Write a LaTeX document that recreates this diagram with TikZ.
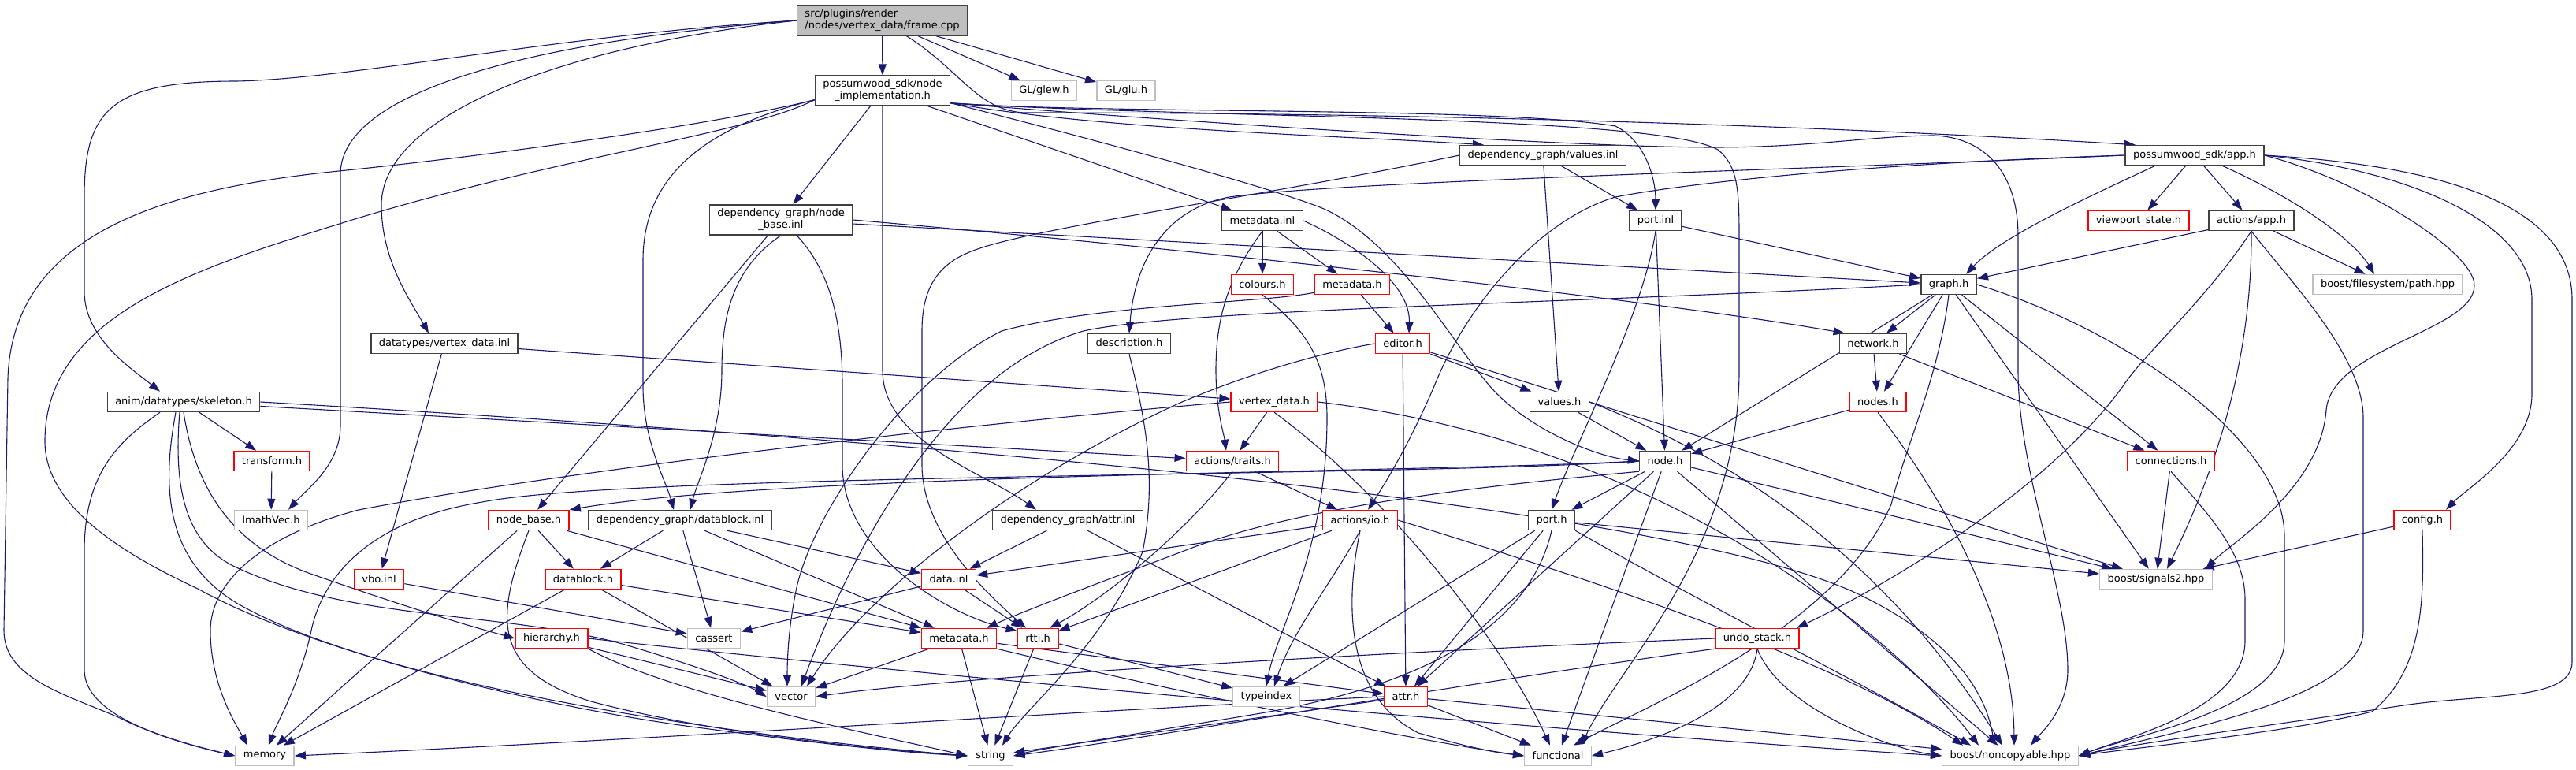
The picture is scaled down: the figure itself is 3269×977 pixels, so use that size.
\documentclass[tikz,border=0pt]{standalone}
\usepackage{fontspec}
\setmainfont{DejaVu Sans}
\usetikzlibrary{arrows.meta,calc}
\definecolor{edgec}{HTML}{191970}
\definecolor{boxb}{HTML}{404040}
\definecolor{extb}{HTML}{BFBFBF}
\definecolor{rootf}{HTML}{BFBFBF}
\pgfdeclarelayer{bg}
\pgfsetlayers{bg,main}
\tikzset{
  box/.style={draw=boxb, line width=1.5pt, fill=white, text=black, font=\fontsize{13}{15}\selectfont, inner xsep=10pt, inner ysep=2pt, minimum height=25pt},
  inc/.style={box, draw=red},
  ext/.style={box, draw=extb},
  root/.style={box, fill=rootf},
  two/.style={inner ysep=5pt},
  e/.style={draw=edgec, line width=1.1pt, -{Triangle[length=14pt,width=10pt]}}
}
\begin{document}
\begin{tikzpicture}[x=1pt,y=-1pt]
\useasboundingbox (0,0) rectangle (3269,977);
\node[root, two, align=left] (F) at (1119.5,26) {src/plugins/render\\/nodes/vertex\_data/frame.cpp};
\node[box, two, align=center] (NI) at (1120,115) {possumwood\_sdk/node\\\_implementation.h};
\node[ext] (GLEW) at (1325,115) {GL/glew.h};
\node[ext] (GLU) at (1429,115) {GL/glu.h};
\node[box] (APP) at (2785,197) {possumwood\_sdk/app.h};
\node[box] (VINL) at (1958,197) {dependency\_graph/values.inl};
\node[box] (PINL) at (2101,280) {port.inl};
\node[box, two, align=center] (NBINL) at (991,279) {dependency\_graph/node\\\_base.inl};
\node[box] (MINL) at (1602,280) {metadata.inl};
\node[inc] (VS) at (2714,280) {viewport\_state.h};
\node[box] (AAPP) at (2857,280) {actions/app.h};
\node[inc] (COL) at (1602,361) {colours.h};
\node[inc] (MH1) at (1716,361) {metadata.h};
\node[box] (GRAPH) at (2473,361) {graph.h};
\node[ext] (FSPATH) at (3030,361) {boost/filesystem/path.hpp};
\node[box] (DVINL) at (564,436) {datatypes/vertex\_data.inl};
\node[box] (DESC) at (1433,436) {description.h};
\node[inc] (EDIT) at (1780,436) {editor.h};
\node[box] (NET) at (2377,436) {network.h};
\node[box] (SKEL) at (233,510) {anim/datatypes/skeleton.h};
\node[inc] (VDH) at (1617,510) {vertex\_data.h};
\node[box] (VALH) at (1979,510) {values.h};
\node[inc] (NODES) at (2383,510) {nodes.h};
\node[inc] (TRANS) at (345,585) {transform.h};
\node[inc] (TRAITS) at (1564,585) {actions/traits.h};
\node[box] (NODEH) at (2113,585) {node.h};
\node[inc] (CONN) at (2755,585) {connections.h};
\node[ext] (IMATH) at (344,660) {ImathVec.h};
\node[inc] (NBH) at (671,660) {node\_base.h};
\node[box] (DBINL) at (863,660) {dependency\_graph/datablock.inl};
\node[box] (AINL) at (1355,660) {dependency\_graph/attr.inl};
\node[inc] (IO) at (1726,660) {actions/io.h};
\node[box] (PORTH) at (1969,660) {port.h};
\node[inc] (CONFIG) at (3074,660) {config.h};
\node[inc] (VBO) at (481,735) {vbo.inl};
\node[inc] (DBH) at (740,735) {datablock.h};
\node[inc] (DATAINL) at (1204,735) {data.inl};
\node[ext] (SIG) at (2736,735) {boost/signals2.hpp};
\node[inc] (HIER) at (700,810) {hierarchy.h};
\node[ext] (CASS) at (906,810) {cassert};
\node[inc] (MH2) at (1217,810) {metadata.h};
\node[inc] (RTTI) at (1317,810) {rtti.h};
\node[inc] (UNDO) at (2230,810) {undo\_stack.h};
\node[ext] (VEC) at (1004,884) {vector};
\node[ext] (TIDX) at (1607,884) {typeindex};
\node[inc] (ATTRH) at (1784,884) {attr.h};
\node[ext] (MEM) at (336,959) {memory};
\node[ext] (STR) at (1257,959) {string};
\node[ext] (FUNC) at (1977,959) {functional};
\node[ext] (NONC) at (2551,959) {boost/noncopyable.hpp};
\coordinate (nie) at ($(NI.south east)+(0,-4)$);
\coordinate (niw) at ($(NI.south west)+(0,-8)$);

\begin{pgfonlayer}{bg}
% frame.cpp
\draw[e] (F) -- (NI);
\draw[e] (F) -- (GLEW);
\draw[e] (F) -- (GLU);
\draw[e] ($(F.south)+(31,0)$) .. controls (1220,90) and (1240,140) .. (1300,143) .. controls (1900,143) and (2400,165) .. (APP.170);
\draw[e] (F.west) .. controls (700,45) and (450,100) .. (300,103) .. controls (140,103) and (107,140) .. (107,250) -- (107,370) .. controls (107,430) and (170,470) .. ($(SKEL.north)+(-30,0)$);
\draw[e] (F.west) .. controls (700,50) and (434,110) .. (432,220) -- (432,540) .. controls (432,590) and (390,620) .. ($(IMATH.north)+(22,0)$);
\draw[e] (F.west) .. controls (700,60) and (484,150) .. (484,260) .. controls (484,330) and (520,380) .. ($(DVINL.north)+(-20,0)$);
% node_implementation.h
\draw[e] (nie) .. controls (1400,165) and (1700,172) .. (VINL.170);
\draw[e] (nie) .. controls (1400,145) and (1900,135) .. (2050,160) .. controls (2090,180) and (2101,230) .. (PINL.north);
\draw[e] (nie) .. controls (1500,150) and (2100,145) .. (2180,190) .. controls (2205,210) and (2207,240) .. (2207,300) -- (2207,470) .. controls (2207,700) and (2050,850) .. ($(FUNC.north)+(30,0)$);
\draw[e] (nie) .. controls (1500,155) and (2000,187) .. (2175,187) .. controls (2300,187) and (2380,172) .. (2455,172) .. controls (2520,175) and (2561,220) .. (2561,300) -- (2561,470) .. controls (2561,600) and (2624,750) .. (2624,850) .. controls (2624,900) and (2590,930) .. ($(NONC.north)+(26,0)$);
\draw[e] (NI) -- (NBINL);
\draw[e] (NI) -- (MINL);
\draw[e] (niw) .. controls (900,160) and (816,220) .. (816,330) -- (816,490) .. controls (816,560) and (845,610) .. ($(DBINL.north)+(-8,0)$);
\draw[e] (NI.south) -- (1120,470) .. controls (1120,560) and (1250,600) .. ($(AINL.north)+(-40,0)$);
\draw[e] (nie) .. controls (1400,180) and (1620,240) .. (1680,265) .. controls (1780,310) and (1850,450) .. (1900,500) .. controls (1950,550) and (2030,580) .. (NODEH.west);
\draw[e] (niw) .. controls (900,160) and (600,200) .. (430,217) .. controls (200,240) and (16,300) .. (10,480) -- (5,800) .. controls (5,860) and (80,880) .. (150,910) .. controls (200,935) and (250,948) .. (MEM.west);
\draw[e] (niw) .. controls (950,170) and (700,200) .. (434,283) .. controls (250,340) and (57,400) .. (57,560) .. controls (57,640) and (150,700) .. (251,747) .. controls (400,830) and (700,900) .. (900,925) .. controls (1050,945) and (1150,955) .. (STR.west);
% app.h
\draw[e] (APP) -- (VS);
\draw[e] (APP) -- (AAPP);
\draw[e] ($(APP.south)+(-50,0)$) .. controls (2650,250) and (2540,300) .. ($(GRAPH.north)+(22,0)$);
\draw[e] ($(APP.south)+(35,0)$) .. controls (2930,260) and (2990,310) .. ($(FSPATH.north)+(-17,0)$);
\draw[e] (APP.west) .. controls (2300,215) and (1700,230) .. (1560,250) .. controls (1480,265) and (1440,330) .. (DESC.north);
\draw[e] (APP.west) .. controls (2300,210) and (2100,240) .. (2050,250) .. controls (1950,280) and (1860,390) .. (1820,490) .. controls (1790,560) and (1760,610) .. ($(IO.north)+(10,0)$);
\draw[e] (APP.east) .. controls (3000,230) and (3140,320) .. (3140,362) .. controls (3140,420) and (2960,440) .. (2952,520) .. controls (2945,620) and (2830,690) .. ($(SIG.north)+(63,0)$);
\draw[e] (APP.east) .. controls (3050,215) and (3213,280) .. (3213,380) -- (3213,500) .. controls (3213,570) and (3130,620) .. ($(CONFIG.north)+(30,0)$);
\draw[e] (APP.east) .. controls (3100,210) and (3264,260) .. (3264,380) -- (3264,840) .. controls (3264,890) and (3150,880) .. (3050,895) .. controls (2850,925) and (2700,945) .. (NONC.east);
% values.inl
\draw[e] (VINL) -- (PINL);
\draw[e] (VINL) -- (VALH);
\draw[e] (VINL.west) .. controls (1600,250) and (1300,290) .. (1230,320) .. controls (1180,340) and (1170,380) .. (1170,420) -- (1170,590) .. controls (1170,680) and (1260,760) .. ($(RTTI.north)+(-15,0)$);
% port.inl
\draw[e] (PINL) -- (GRAPH);
\draw[e] (PINL) -- (NODEH);
\draw[e] (PINL.south) .. controls (2085,400) and (2000,560) .. (PORTH.north);
% node_base.inl
\draw[e] (NBINL) -- (GRAPH);
\draw[e] (NBINL.east) .. controls (1500,315) and (2100,380) .. (NET.160);
\draw[e] (NBINL) -- (NBH);
\draw[e] (NBINL.south) .. controls (930,340) and (916,400) .. (916,470) .. controls (916,550) and (885,610) .. ($(DBINL.north)+(13,0)$);
\draw[e] ($(NBINL.south)+(20,0)$) .. controls (1050,340) and (1069,400) .. (1069,490) -- (1069,590) .. controls (1069,700) and (1200,780) .. (RTTI.160);
% metadata.inl
\draw[e] (MINL) -- (COL);
\draw[e] (MINL) -- (MH1);
\draw[e] (MINL.east) .. controls (1720,310) and (1790,360) .. ($(EDIT.north)+(8,0)$);
\draw[e] (MINL.south) .. controls (1560,350) and (1543,400) .. (1543,470) .. controls (1543,520) and (1553,550) .. ($(TRAITS.north)+(-8,0)$);
% actions/app.h
\draw[e] (AAPP) -- (GRAPH);
\draw[e] (AAPP) -- (FSPATH);
\draw[e] (AAPP.south) .. controls (2800,380) and (2720,450) .. (2694,490) .. controls (2600,620) and (2400,740) .. ($(UNDO.north)+(50,0)$);
\draw[e] (AAPP.south) .. controls (2858,420) and (2830,560) .. ($(SIG.north)+(14,0)$);
\draw[e] (AAPP.south) .. controls (2900,350) and (2999,450) .. (2999,530) -- (2999,800) .. controls (2999,880) and (2800,920) .. (NONC.east);
% colours.h / metadata.h
\draw[e] (COL.south) .. controls (1660,420) and (1684,460) .. (1684,530) .. controls (1684,700) and (1620,800) .. (TIDX.north);
\draw[e] (MH1) -- (EDIT);
\draw[e] ($(MH1.south west)+(0,-3)$) .. controls (1600,385) and (1400,385) .. (1271,420) .. controls (1150,480) and (1030,650) .. (1010,750) .. controls (1000,800) and (999,840) .. ($(VEC.north)+(-5,0)$);
% graph.h
\draw[e] (GRAPH) -- (NET);
\draw[e] (GRAPH) -- (NODES);
\draw[e] (GRAPH) -- (NODEH);
\draw[e] (GRAPH) -- (CONN);
\draw[e] (GRAPH) -- (SIG);
\draw[e] (GRAPH.east) .. controls (2700,420) and (2899,560) .. (2899,680) -- (2899,813) .. controls (2899,900) and (2700,935) .. (NONC.east);
\draw[e] (GRAPH.south) .. controls (2460,480) and (2420,560) .. (2400,640) .. controls (2330,800) and (2080,900) .. ($(FUNC.north)+(20,0)$);
\draw[e] (GRAPH.west) .. controls (2000,385) and (1500,392) .. (1375,420) .. controls (1200,470) and (1080,700) .. ($(VEC.north)+(13,0)$);
% datatypes/vertex_data.inl
\draw[e] (DVINL) -- (VDH);
\draw[e] (DVINL) -- (VBO);
% description.h
\draw[e] (DESC.south) .. controls (1450,520) and (1470,600) .. (1450,700) .. controls (1400,820) and (1300,900) .. ($(STR.north)+(15,0)$);
% editor.h
\draw[e] (EDIT) -- (VALH);
\draw[e] (EDIT) -- (ATTRH);
\draw[e] (EDIT) -- (SIG);
\draw[e] (EDIT.west) .. controls (1690,445) and (1600,468) .. (1500,510) .. controls (1300,600) and (1100,750) .. ($(VEC.north)+(20,0)$);
% network.h
\draw[e] (NET) -- (NODES);
\draw[e] (NET) -- (CONN);
% skeleton.h
\draw[e] (SKEL) -- (TRANS);
\draw[e] (SKEL.south) .. controls (245,600) and (280,690) .. (400,730) .. controls (500,765) and (580,790) .. (HIER.west);
\draw[e] (SKEL) -- (TRAITS);
\draw[e] ($(SKEL.south)+(-30,0)$) .. controls (150,560) and (107,600) .. (107,700) -- (107,850) .. controls (107,910) and (220,940) .. (MEM.west);
\draw[e] ($(SKEL.south)+(-10,0)$) .. controls (205,620) and (210,710) .. (300,765) .. controls (500,880) and (1000,940) .. (STR.west);
\draw[e] ($(SKEL.south)+(-5,0)$) .. controls (220,620) and (235,690) .. (300,720) .. controls (450,790) and (650,775) .. (800,820) .. controls (900,850) and (950,870) .. (VEC.west);
\draw[e] (SKEL.east) .. controls (1200,560) and (2100,640) .. (2350,750) .. controls (2480,810) and (2520,880) .. ($(NONC.north)+(-20,0)$);
% vertex_data.h
\draw[e] (VDH) -- (TRAITS);
\draw[e] (VDH.west) .. controls (1200,540) and (700,600) .. (455,647) .. controls (330,680) and (267,740) .. (267,800) .. controls (267,870) and (300,920) .. ($(MEM.north)+(-22,0)$);
\draw[e] (VDH.south) .. controls (1750,620) and (1900,800) .. ($(FUNC.north)+(-10,0)$);
\draw[e] (VDH.east) .. controls (2100,560) and (2400,800) .. ($(NONC.north)+(-40,0)$);
% values.h / nodes.h
\draw[e] (VALH) -- (NODEH);
\draw[e] (VALH.east) .. controls (2300,620) and (2450,800) .. ($(NONC.north)+(-10,0)$);
\draw[e] (NODES) -- (NODEH);
\draw[e] (NODES.south) .. controls (2480,650) and (2555,800) .. ($(NONC.north)+(5,0)$);
% transform.h / traits.h
\draw[e] (TRANS) -- (IMATH);
\draw[e] (TRAITS) -- (IO);
\draw[e] (TRAITS.south) .. controls (1500,680) and (1400,760) .. ($(RTTI.north)+(15,0)$);
% node.h
\draw[e] (NODEH.west) .. controls (1800,600) and (1000,600) .. (NBH.north east);
\draw[e] (NODEH.west) .. controls (1800,605) and (800,600) .. (612,637) .. controls (470,660) and (410,730) .. (395,800) .. controls (380,870) and (350,920) .. ($(MEM.north)+(5,0)$);
\draw[e] (NODEH.south west) .. controls (1900,615) and (1650,640) .. (1500,700) .. controls (1380,745) and (1300,775) .. ($(MH2.north)+(35,0)$);
\draw[e] (NODEH) -- (PORTH);
\draw[e] (NODEH) -- (ATTRH);
\draw[e] (NODEH) -- (FUNC);
\draw[e] (NODEH) -- (NONC);
\draw[e] (NODEH) -- (SIG);
% connections.h
\draw[e] (CONN) -- (SIG);
\draw[e] (CONN.south) .. controls (2800,650) and (2849,700) .. (2849,760) -- (2849,813) .. controls (2849,900) and (2700,935) .. (NONC.east);
% node_base.h
\draw[e] (NBH) -- (DBH);
\draw[e] (NBH) -- (MEM);
\draw[e] (NBH) -- (MH2);
\draw[e] (NBH.south) .. controls (630,780) and (620,850) .. (750,890) .. controls (900,930) and (1100,950) .. (STR.west);
% datablock.inl
\draw[e] (DBINL) -- (DBH);
\draw[e] (DBINL) -- (CASS);
\draw[e] (DBINL) -- (MH2);
\draw[e] (DBINL) -- (DATAINL);
% attr.inl
\draw[e] (AINL) -- (DATAINL);
\draw[e] (AINL) -- (ATTRH);
% actions/io.h
\draw[e] (IO) -- (DATAINL);
\draw[e] (IO) -- (RTTI);
\draw[e] (IO.south) .. controls (1690,740) and (1640,800) .. ($(TIDX.north)+(10,0)$);
\draw[e] (IO.south) .. controls (1710,750) and (1700,880) .. (1800,930) .. controls (1870,950) and (1900,955) .. (FUNC.west);
\draw[e] (IO.east) .. controls (2100,760) and (2350,850) .. ($(NONC.north)+(-60,0)$);
% port.h
\draw[e] (PORTH) -- (ATTRH);
\draw[e] (PORTH) -- (TIDX);
\draw[e] (PORTH) -- (SIG);
\draw[e] (PORTH.south) .. controls (1940,800) and (1800,870) .. (1600,905) .. controls (1450,930) and (1320,950) .. (STR.east);
\draw[e] (PORTH.south east) .. controls (2150,760) and (2350,860) .. ($(NONC.north)+(-50,0)$);
% config.h
\draw[e] (CONFIG) -- (SIG);
\draw[e] (CONFIG.south) .. controls (3076,760) and (3076,850) .. (3010,903) .. controls (2900,930) and (2700,950) .. (NONC.east);
% vbo.inl, datablock.h, hierarchy.h
\draw[e] (VBO) -- (CASS);
\draw[e] (DBH) -- (MEM);
\draw[e] (DBH) -- (MH2);
\draw[e] (DBH) -- (VEC);
\draw[e] (HIER) -- (VEC);
\draw[e] (HIER.south east) .. controls (850,880) and (1100,930) .. (STR.west);
\draw[e] (HIER.east) .. controls (1200,860) and (2000,930) .. (NONC.west);
% data.inl
\draw[e] (DATAINL) -- (CASS);
\draw[e] (DATAINL) -- (RTTI);
% metadata.h (2)
\draw[e] (MH2) -- (VEC);
\draw[e] (MH2) -- (STR);
\draw[e] (MH2) -- (ATTRH);
\draw[e] (MH2.south east) .. controls (1500,880) and (1800,940) .. (FUNC.west);
% rtti.h
\draw[e] (RTTI) -- (STR);
\draw[e] (RTTI) -- (TIDX);
% undo_stack.h
\draw[e] (UNDO.west) .. controls (1700,830) and (1200,860) .. (VEC.east);
\draw[e] (UNDO.south west) .. controls (1900,860) and (1500,930) .. (STR.east);
\draw[e] (UNDO.south) .. controls (2220,900) and (2100,940) .. (FUNC.east);
\draw[e] (UNDO.south) .. controls (2260,900) and (2400,950) .. (NONC.west);
% attr.h
\draw[e] (ATTRH.west) .. controls (1400,900) and (800,940) .. (MEM.east);
\draw[e] (ATTRH) -- (STR);
\draw[e] (ATTRH) -- (FUNC);
\draw[e] (ATTRH) -- (NONC);
\end{pgfonlayer}
\end{tikzpicture}
\end{document}
